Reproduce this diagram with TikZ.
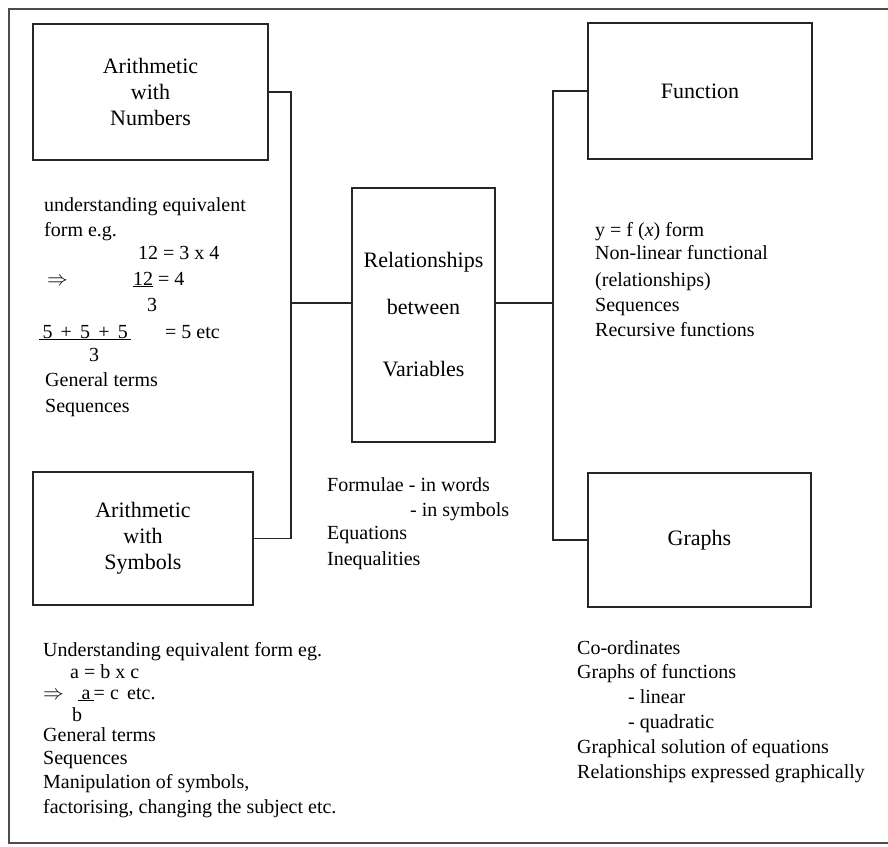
\documentclass[tikz,border=0pt]{standalone}
\usepackage{fontspec}
\setmainfont{Liberation Serif}
\newcommand\lblfont{\fontsize{22}{26}\selectfont}
\newcommand\txtfont{\fontsize{20}{24}\selectfont}
\begin{document}
\begin{tikzpicture}[x=1pt,y=-1pt,
  box/.style={draw=black!85, line width=1.2pt, inner sep=0pt, align=center, font=\lblfont},
  txt/.style={anchor=base west, inner sep=0pt, font=\txtfont},
  link/.style={draw=black!85, line width=1.2pt},
  frame/.style={draw=black!70, line width=1.1pt}]
\useasboundingbox (0,0) rectangle (888,846);
\begin{scope}
\clip (0,0) rectangle (888,846);
\draw[frame] (9,9) rectangle (892,843);
\end{scope}

% boxes
\node[box, minimum width=235pt, minimum height=136pt] (num) at (150.5,92) {Arithmetic\\with\\Numbers};
\node[box, minimum width=220pt, minimum height=133pt] (sym) at (143,538.5) {Arithmetic\\with\\Symbols};
\node[box, minimum width=143pt, minimum height=254pt] (rel) at (423.5,315) {Relationships\\[21pt]between\\[36pt]Variables};
\node[box, minimum width=224pt, minimum height=136pt] (fun) at (700,91) {Function};
\node[box, minimum width=223pt, minimum height=134pt] (gra) at (699.5,540) {Graphs};

% connectors
\coordinate (ls) at (291,303);
\coordinate (rs) at (553,303);
\draw[link] (num.east) -| (ls) |- (sym.east);
\draw[link] (ls) -- (rel.west |- ls);
\draw[link] (rel.east |- rs) -- (rs);
\draw[link] (fun.west) -| (rs) |- (gra.west);

% left top text
\node[txt] (a1) at (44,211) {understanding equivalent};
\node[txt] (a2) at (44,236) {form e.g.};
\node[txt] (a3) at (138,259) {12 = 3 x 4};
\node[txt] (a4) at (47,285) {$\Rightarrow$};
\node[txt] (a5) at (133,285) {\underline{12} = 4};
\node[txt] (a6) at (147,311) {3};
\node[txt] (a7) at (39,338) {\underline{\makebox[92pt][s]{\,5\hfill+\hfill5\hfill+\hfill5\,}}};
\node[txt] (a8) at (165,338) {= 5 etc};
\node[txt] (a9) at (89,361) {3};
\node[txt] (a10) at (45,386) {General terms};
\node[txt] (a11) at (45,412) {Sequences};

% left bottom text
\node[txt] (b1) at (43,656) {Understanding equivalent form eg.};
\node[txt] (b2) at (70,678) {a = b x c};
\node[txt] (b3) at (43,699) {$\Rightarrow$};
\node[txt] (b4) at (78,699) {\underline{\,a\,}= c\, etc.};
\node[txt] (b5) at (72,721) {b};
\node[txt] (b6) at (43,741) {General terms};
\node[txt] (b7) at (43,764) {Sequences};
\node[txt] (b8) at (43,788) {Manipulation of symbols,};
\node[txt] (b9) at (43,813) {factorising, changing the subject etc.};

% middle text
\node[txt] (c1) at (327,491) {Formulae - in words};
\node[txt] (c2) at (410,516) {- in symbols};
\node[txt] (c3) at (327,539) {Equations};
\node[txt] (c4) at (327,565) {Inequalities};

% right top text
\node[txt] (d1) at (595,236) {y = f (\textit{x}) form};
\node[txt] (d2) at (595,259) {Non-linear functional};
\node[txt] (d3) at (595,286) {(relationships)};
\node[txt] (d4) at (595,311) {Sequences};
\node[txt] (d5) at (595,336) {Recursive functions};

% right bottom text
\node[txt] (e1) at (577,654) {Co-ordinates};
\node[txt] (e2) at (577,678) {Graphs of functions};
\node[txt] (e3) at (628,703) {- linear};
\node[txt] (e4) at (628,728) {- quadratic};
\node[txt] (e5) at (577,753) {Graphical solution of equations};
\node[txt] (e6) at (577,778) {Relationships expressed graphically};
\end{tikzpicture}
\end{document}
